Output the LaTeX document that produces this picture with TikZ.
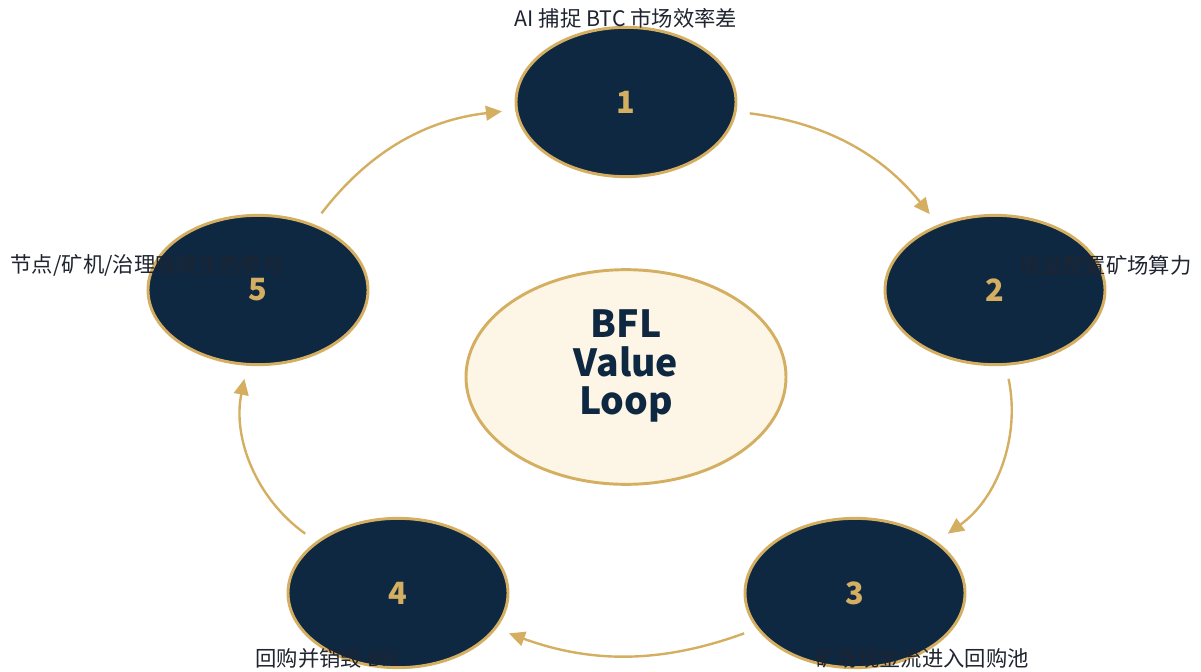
\documentclass[tikz,border=0pt]{standalone}
\usepackage{fontspec}
\setmainfont{Noto Sans CJK SC}
\usetikzlibrary{shapes.geometric,arrows.meta}
\definecolor{navy}{HTML}{0E2842}
\definecolor{gold}{HTML}{D4AF61}
\definecolor{cream}{HTML}{FDF5E5}
\definecolor{ink}{HTML}{1F2430}
\begin{document}
\begin{tikzpicture}[x=0.75pt,y=-0.75pt,
    stage/.style={ellipse,draw=gold,fill=navy,line width=2.2pt,minimum width=165pt,minimum height=112pt,inner sep=0pt,text=gold,font=\fontsize{23}{23}\selectfont\bfseries},
    hub/.style={ellipse,draw=gold,fill=cream,line width=2.2pt,minimum width=240pt,minimum height=161pt,inner sep=0pt},
    caption/.style={text=ink,inner sep=0pt,font=\fontsize{16}{18}\selectfont},
    flow/.style={draw=gold,line width=1.8pt,-{Triangle[length=12pt,width=11pt]},shorten <=10pt,shorten >=10pt}]
  \useasboundingbox (0,0) rectangle (1201,671);

  \node[hub] (hub) at (626,377) {};
  \node[text=navy,align=center,font=\fontsize{28}{29}\selectfont\bfseries] (title) at (626,366) {BFL\\Value\\Loop};

  \node[stage] (s1) at (626,102) {1};
  \node[stage] (s2) at (995,290) {2};
  \node[stage] (s3) at (855,593) {3};
  \node[stage] (s4) at (398,593) {4};
  \node[stage] (s5) at (258,290) {5};

  \draw[flow] (s1) to[bend left=22] (s2);
  \draw[flow] (s2) to[bend left=33] (s3);
  \draw[flow] (s3) to[bend left=20] (s4);
  \draw[flow] (s4) to[bend left=33] (s5);
  \draw[flow] (s5) to[bend left=23] (s1);

  \node[caption] (c1) at (626,18) {AI 捕捉 BTC 市场效率差};
  \node[caption] (c2) at (1106,265) {收益配置矿场算力};
  \node[caption] (c3) at (922,658) {矿场现金流进入回购池};
  \node[caption] (c4) at (330,658) {回购并销毁 BFL};
  \node[caption] (c5) at (147,265) {节点/矿机/治理吸收生态参与};
\end{tikzpicture}
\end{document}
